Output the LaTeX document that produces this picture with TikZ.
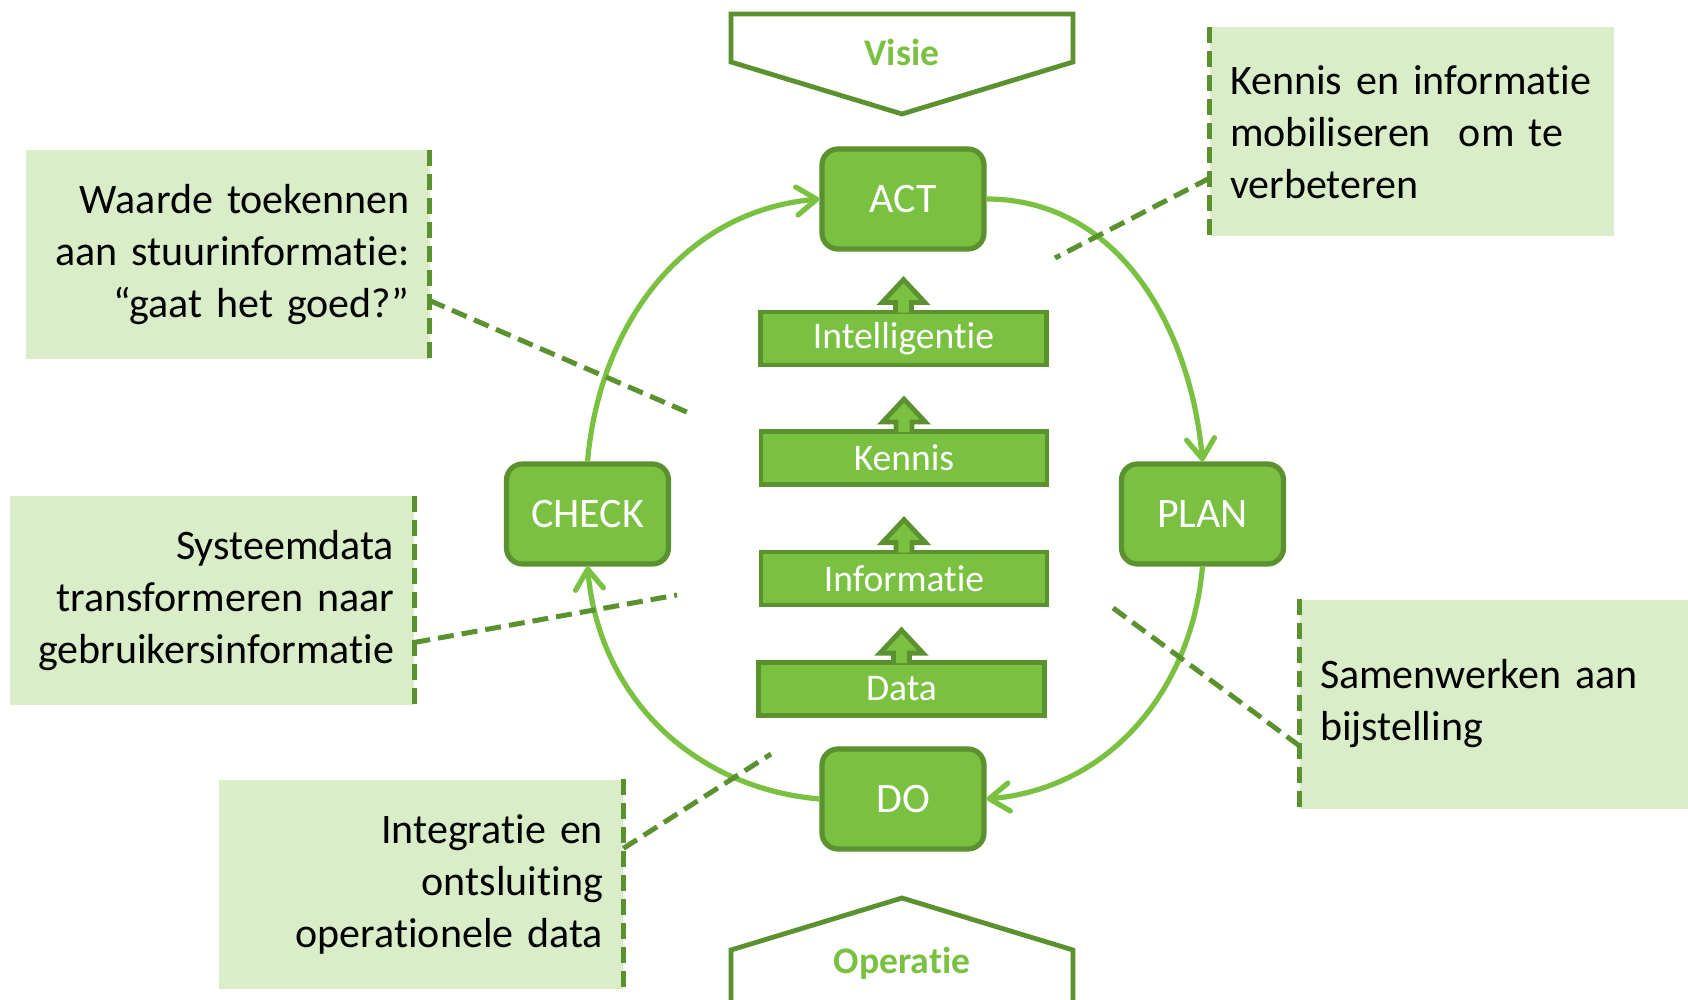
\documentclass[tikz,border=0pt]{standalone}
\usepackage{fontspec}
\setmainfont{Carlito}[Ligatures={NoCommon}]
\usetikzlibrary{arrows.meta}
\usetikzlibrary{calc}
\definecolor{ltgreen}{RGB}{122,193,66}
\definecolor{dkgreen}{RGB}{91,145,47}
\definecolor{notefill}{RGB}{216,237,200}

\begin{document}
\begin{tikzpicture}[x=0.5pt,y=-0.5pt,
    >={Straight Barb[length=10pt,width=14pt,round]},
    cyclebox/.style={draw=dkgreen,line width=2.6pt,fill=ltgreen,rounded corners=8pt,minimum width=81pt,minimum height=50pt,text=white,font=\fontsize{21}{25}\selectfont},
    layerbox/.style={draw=dkgreen,line width=2.4pt,fill=ltgreen,minimum width=143pt,minimum height=26.5pt,inner sep=0pt,text=white,font=\fontsize{18.8}{22}\selectfont},
    uparrow/.style={draw=dkgreen,line width=2.4pt,fill=ltgreen},
    banner/.style={draw=dkgreen,line width=2.4pt,fill=white},
    bannertext/.style={text=ltgreen,font=\fontsize{18.8}{22}\selectfont\bfseries},
    notebox/.style={fill=notefill,minimum height=104.5pt,text width=182pt,inner xsep=10pt,font=\fontsize{21}{26}\selectfont},
    dashline/.style={draw=dkgreen,line width=2.5pt,dash pattern=on 8pt off 4pt},
    cyclearrow/.style={->,draw=ltgreen,line width=2.6pt}]
                    \useasboundingbox (0,0) rectangle (1688,1000);
                    % banners
                    \draw[banner] (731,14) -- (1073,14) -- (1073,62) -- (902,114) -- (731,62) -- cycle;
                    \node[bannertext] (visie) at (902,52) {Visie};
                    \draw[banner] (731,1010) -- (731,950) -- (902,898) -- (1073,950) -- (1073,1010);
                    \node[bannertext] (operatie) at (902,963) {Operatie};
                    % callouts
                    \node[notebox,align=right] (waarde) at (227.5,254.5) {Waarde toekennen\\aan stuurinformatie:\\“gaat het goed?”};
                    \node[notebox,align=right] (systeem) at (212,600.5) {Systeemdata\\transformeren naar\\gebruikersinformatie};
                    \node[notebox,align=right] (integratie) at (421,884) {Integratie en\\ontsluiting\\operationele data};
                    \node[notebox,align=left] (mobil) at (1412,132) {Kennis en informatie\\mobiliseren\ \ om te\\verbeteren};
                    \node[notebox,align=left] (bijstel) at (1502,704) {Samenwerken aan\\bijstelling};
                    \draw[dashline] (waarde.north east) -- (waarde.south east);
                    \draw[dashline] (systeem.north east) -- (systeem.south east);
                    \draw[dashline] (integratie.north east) -- (integratie.south east);
                    \draw[dashline] (mobil.north west) -- (mobil.south west);
                    \draw[dashline] (bijstel.north west) -- (bijstel.south west);
                    % pdca cycle
                    \node[cyclebox] (act) at (903,199) {ACT};
                    \node[cyclebox] (plan) at (1202.5,514) {PLAN};
                    \node[cyclebox] (do) at (903,799) {DO};
                    \node[cyclebox] (check) at (587.5,514) {CHECK};
                    \draw[cyclearrow] (act.east) to[out=0,in=95] (plan.north);
                    \draw[cyclearrow] (plan.south) to[out=-95,in=5] (do.east);
                    \draw[cyclearrow] (do.west) to[out=175,in=-85] (check.south);
                    \draw[cyclearrow] (check.north) to[out=85,in=185] (act.west);
                    % layers
                    \node[layerbox] (intel) at (903.5,338.5) {Intelligentie};
                    \node[layerbox] (kennis) at (904,458) {Kennis};
                    \node[layerbox] (info) at (904,578.5) {Informatie};
                    \node[layerbox] (data) at (901.5,689) {Data};
                    \foreach \b in {intel,kennis,info,data}
                        \filldraw[uparrow] ($(\b.north)+(-8,3)$) -- ++(0,-10) -- ++(-13.5,0) -- ++(21.5,-23) -- ++(21.5,23) -- ++(-13.5,0) -- ++(0,10);
                    % dashed pointers
                    \coordinate (waardeend) at (689,413);
                    \coordinate (systeemend) at (677,595);
                    \coordinate (integratieend) at (771,754);
                    \coordinate (mobilend) at (1055,258);
                    \coordinate (bijstelend) at (1109,605);
                    \draw[dashline] ($(waarde.north east)!0.72!(waarde.south east)$) -- (waardeend);
                    \draw[dashline] ($(systeem.north east)!0.7!(systeem.south east)$) -- (systeemend);
                    \draw[dashline] ($(integratie.north east)!0.33!(integratie.south east)$) -- (integratieend);
                    \draw[dashline] ($(mobil.north west)!0.72!(mobil.south west)$) -- (mobilend);
                    \draw[dashline] ($(bijstel.north west)!0.7!(bijstel.south west)$) -- (bijstelend);
                \end{tikzpicture}
\end{document}
